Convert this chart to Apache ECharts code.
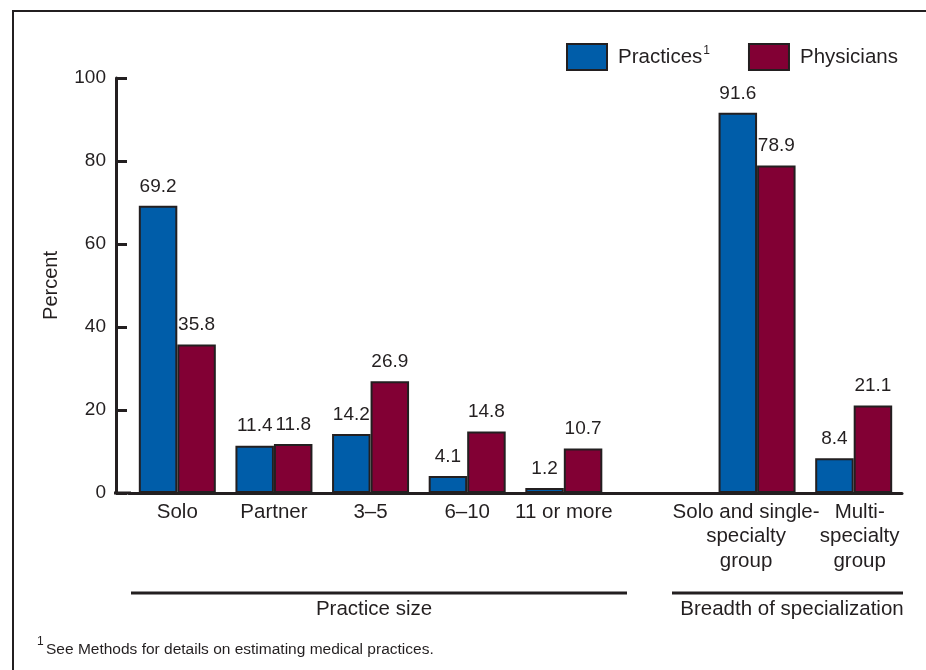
<!DOCTYPE html>
<html>
<head>
<meta charset="utf-8">
<script src="https://cdn.jsdelivr.net/npm/echarts@6/dist/echarts.min.js"></script>
<style>
html,body{margin:0;padding:0;background:#fff;}
#chart{width:926px;height:670px;}
</style>
</head>
<body>
<div id="chart"></div>
<script>
// ---- data ----
var categories = ['Solo', 'Partner', '3\u20135', '6\u201310', '11 or more', '', 'Solo and single-\nspecialty\ngroup', 'Multi-\nspecialty\ngroup'];
var practices = [69.2, 11.4, 14.2, 4.1, 1.2, null, 91.6, 8.4];
var physicians = [35.8, 11.8, 26.9, 14.8, 10.7, null, 78.9, 21.1];
var yTicks = [0, 20, 40, 60, 80, 100];
var groupLabels = ['Practice size', 'Breadth of specialization'];
var footnote = 'See Methods for details on estimating medical practices.';

var INK = '#231f20';
var BLUE = '#005da9';
var RED = '#820034';
var FONT = '"Liberation Sans", Arial, Helvetica, sans-serif';

var chart = echarts.init(document.getElementById('chart'));

var catData = categories.map(function (c, i) {
  var item = { value: c };
  if (i === 6) item.textStyle = { padding: [0, 22, 0, 0] };
  if (i === 7) item.textStyle = { padding: [0, 0, 0, 12] };
  return item;
});

var labelCfg = {
  show: true,
  position: 'top',
  distance: 10,
  color: INK,
  fontSize: 19,
  fontFamily: FONT,
  formatter: function (p) { return p.value == null ? '' : p.value.toFixed(1); }
};

var option = {
  animation: false,
  backgroundColor: '#fff',
  textStyle: { fontFamily: FONT, color: INK },
  legend: {
    left: 561,
    top: 38,
    itemWidth: 40,
    itemHeight: 26,
    itemGap: 38,
    icon: 'rect',
    data: ['Practices', 'Physicians'],
    formatter: function (name) {
      return name === 'Practices' ? '{a|Practices}{sup|1}' : '{a|Physicians}';
    },
    textStyle: {
      color: INK,
      fontFamily: FONT,
      fontSize: 20,
      padding: [0, 0, 0, 6],
      rich: {
        a: { fontSize: 20.5, fontFamily: FONT, color: INK, lineHeight: 24 },
        sup: { fontSize: 12, fontFamily: FONT, color: INK, verticalAlign: 'top', lineHeight: 24, padding: [0, 0, 8, 1] }
      }
    }
  },
  grid: {
    left: 129,
    right: 24,
    top: 78,
    bottom: 177,
    containLabel: false
  },
  xAxis: {
    type: 'category',
    data: catData,
    axisLine: { show: true, lineStyle: { color: INK, width: 3 } },
    axisTick: { show: false },
    axisLabel: {
      interval: 0,
      margin: 7,
      color: INK,
      fontSize: 20.5,
      lineHeight: 24.5,
      fontFamily: FONT,
      align: 'center'
    }
  },
  yAxis: {
    type: 'value',
    min: yTicks[0],
    max: yTicks[yTicks.length - 1],
    interval: 20,
    offset: 13,
    name: 'Percent',
    nameLocation: 'middle',
    nameGap: 55,
    nameTextStyle: { color: INK, fontSize: 20, fontFamily: FONT },
    axisLine: { show: true, lineStyle: { color: INK, width: 3 } },
    axisTick: { show: true, inside: true, length: 11, lineStyle: { color: INK, width: 3 } },
    axisLabel: { color: INK, fontSize: 19, fontFamily: FONT, margin: 10 },
    splitLine: { show: false }
  },
  series: [
    {
      name: 'Practices',
      type: 'bar',
      data: practices,
      barWidth: 38.5,
      barGap: '0%',
      itemStyle: { color: BLUE, borderColor: INK, borderWidth: 2 },
      label: labelCfg
    },
    {
      name: 'Physicians',
      type: 'bar',
      data: physicians,
      barWidth: 38.5,
      barGap: '0%',
      itemStyle: { color: RED, borderColor: INK, borderWidth: 2 },
      label: labelCfg
    }
  ],
  graphic: [
    // outer frame
    { type: 'rect', shape: { x: 13, y: 11, width: 940, height: 700 }, style: { fill: 'none', stroke: INK, lineWidth: 2 }, silent: true },
    // baseline extension between y axis and first category slot
    { type: 'line', shape: { x1: 114, y1: 493, x2: 131, y2: 493 }, style: { stroke: INK, lineWidth: 3 }, silent: true },
    // group bracket lines
    { type: 'line', shape: { x1: 131, y1: 593, x2: 627, y2: 593 }, style: { stroke: INK, lineWidth: 3 }, silent: true },
    { type: 'line', shape: { x1: 672, y1: 593, x2: 903, y2: 593 }, style: { stroke: INK, lineWidth: 3 }, silent: true },
    // group labels
    { type: 'text', x: 374, y: 609, style: { text: groupLabels[0], fill: INK, font: '20.5px ' + FONT, textAlign: 'center', textVerticalAlign: 'middle' }, silent: true },
    { type: 'text', x: 792, y: 609, style: { text: groupLabels[1], fill: INK, font: '20.5px ' + FONT, textAlign: 'center', textVerticalAlign: 'middle' }, silent: true },
    // footnote
    { type: 'text', x: 37, y: 642, style: { text: '1', fill: INK, font: '12px ' + FONT, textAlign: 'left', textVerticalAlign: 'middle' }, silent: true },
    { type: 'text', x: 46, y: 650, style: { text: footnote, fill: INK, font: '15.5px ' + FONT, textAlign: 'left', textVerticalAlign: 'middle' }, silent: true }
  ]
};

chart.setOption(option);
</script>
</body>
</html>
